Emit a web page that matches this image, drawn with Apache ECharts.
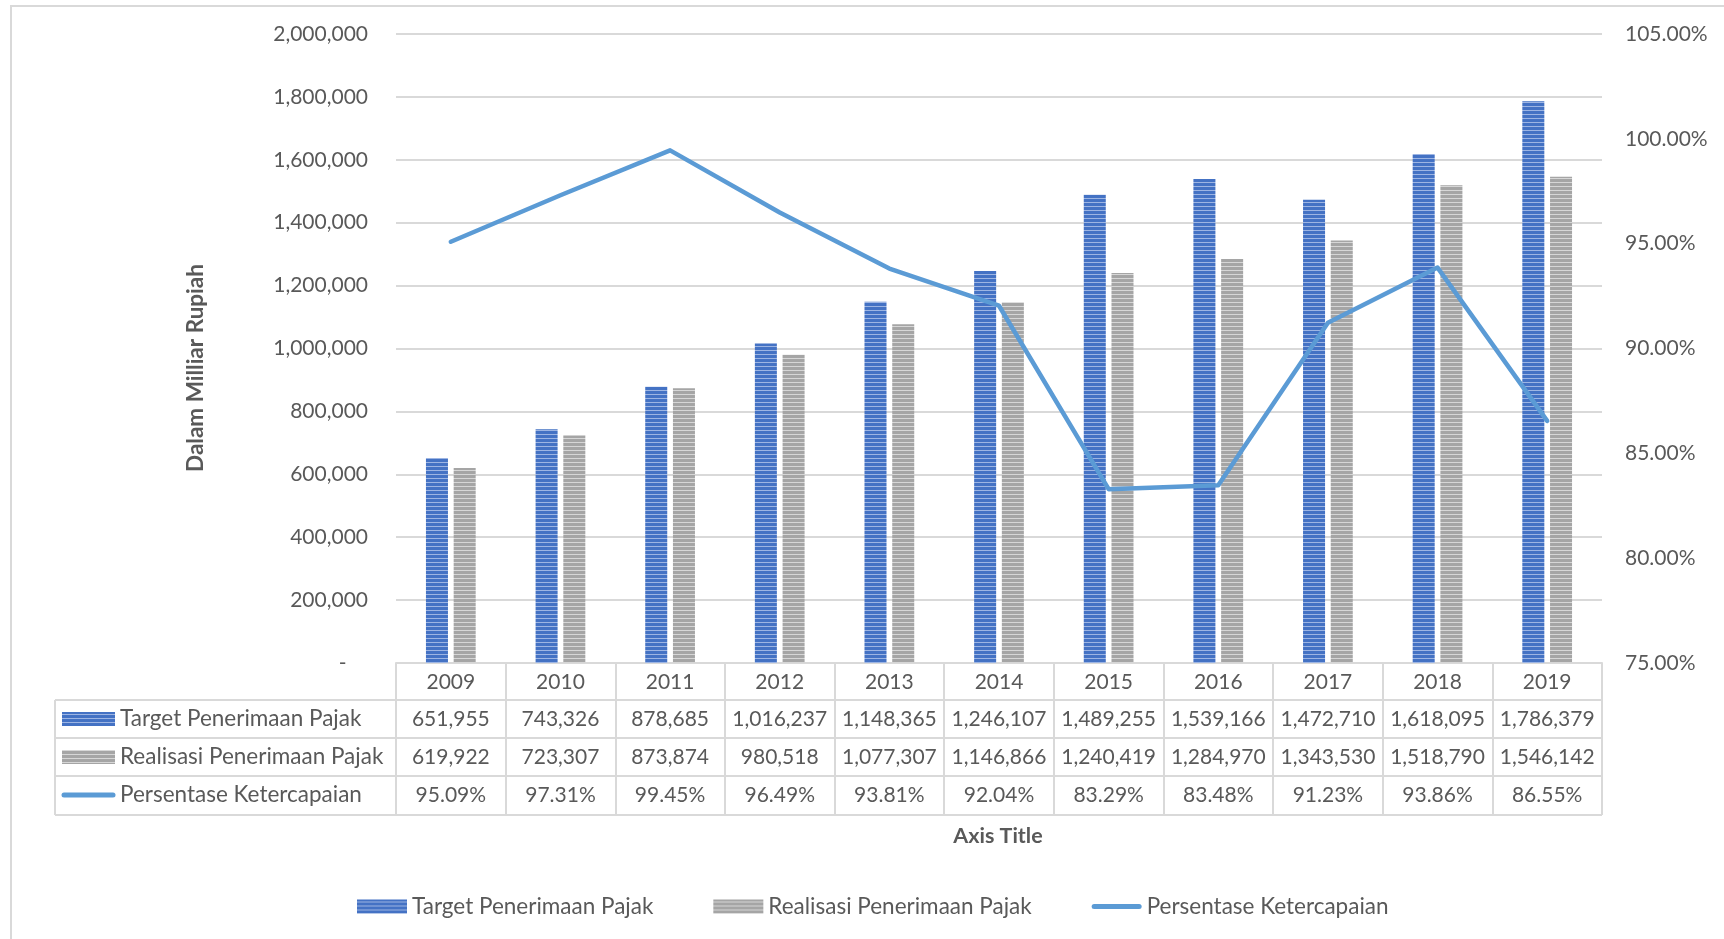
<!DOCTYPE html>
<html>
<head>
<meta charset="utf-8">
<script src="https://cdn.jsdelivr.net/npm/echarts@6/dist/echarts.min.js"></script>
<style>
  html, body { margin: 0; padding: 0; background: #fff; }
  #chart { width: 1724px; height: 939px; }
</style>
</head>
<body>
<div id="chart"></div>
<script>
// ---- data ----
const years = ['2009','2010','2011','2012','2013','2014','2015','2016','2017','2018','2019'];
const targetPajak = [651955, 743326, 878685, 1016237, 1148365, 1246107, 1489255, 1539166, 1472710, 1618095, 1786379];
const realisasiPajak = [619922, 723307, 873874, 980518, 1077307, 1146866, 1240419, 1284970, 1343530, 1518790, 1546142];
const persentase = [95.09, 97.31, 99.45, 96.49, 93.81, 92.04, 83.29, 83.48, 91.23, 93.86, 86.55];
const seriesNames = ['Target Penerimaan Pajak', 'Realisasi Penerimaan Pajak', 'Persentase Ketercapaian'];
const leftTicks = { min: 0, max: 2000000, interval: 200000 };
const rightTicks = { min: 75, max: 105, interval: 5 };

// ---- styles ----
const FONT = 'Lato';
const TXT = '#595959';
const GRID_C = '#D9D9D9';

function stripePattern(dark, light) {
  const c = document.createElement('canvas');
  c.width = 4; c.height = 4;
  const ctx = c.getContext('2d');
  ctx.fillStyle = dark; ctx.fillRect(0, 0, 4, 4);
  ctx.fillStyle = light; ctx.fillRect(0, 2, 4, 1);
  ctx.fillStyle = dark; ctx.fillRect(0, 3, 4, 1);
  return { image: c, repeat: 'repeat' };
}
const bluePat = stripePattern('#4472C4', '#9DB5E3');
const grayPat = stripePattern('#A5A5A5', '#D6D6D6');
const lineColor = '#5B9BD5';

const GRID = { left: 396, top: 34, width: 1206, height: 629 };

const chart = echarts.init(document.getElementById('chart'), null, { renderer: 'canvas' });

const fmtNum = v => v.toLocaleString('en-US');
const fmtPct = v => v.toFixed(2) + '%';

const option = {
  animation: false,
  backgroundColor: '#fff',
  grid: { left: GRID.left, top: GRID.top, width: GRID.width, height: GRID.height },
  legend: {
    left: 352, top: 890,
    itemWidth: 50, itemHeight: 14, itemGap: 60,
    textStyle: { fontFamily: FONT, fontSize: 22.5, color: TXT },
    data: [
      { name: seriesNames[0], icon: 'rect' },
      { name: seriesNames[1], icon: 'rect' },
      { name: seriesNames[2], icon: 'path://M0,0 M2.5,4.5 L47.5,4.5 A2.5,2.5 0 0 1 47.5,9.5 L2.5,9.5 A2.5,2.5 0 0 1 2.5,4.5 Z M50,14',
        itemStyle: { color: lineColor } }
    ]
  },
  xAxis: {
    type: 'category',
    data: years,
    axisLine: { lineStyle: { color: GRID_C, width: 2 } },
    axisTick: { show: true, interval: 0, length: 152, lineStyle: { color: GRID_C, width: 2 } },
    axisLabel: { interval: 0, margin: 19, verticalAlign: 'middle', fontFamily: FONT, fontSize: 21, color: TXT },
    splitLine: { show: false }
  },
  yAxis: [
    {
      type: 'value', min: leftTicks.min, max: leftTicks.max, interval: leftTicks.interval,
      axisLine: { show: false }, axisTick: { show: false },
      axisLabel: { margin: 28, fontFamily: FONT, fontSize: 21, color: TXT,
        formatter: v => v === 0 ? '-    ' : fmtNum(v) },
      splitLine: { lineStyle: { color: GRID_C, width: 2 } }
    },
    {
      type: 'value', min: rightTicks.min, max: rightTicks.max, interval: rightTicks.interval,
      axisLine: { show: false }, axisTick: { show: false },
      axisLabel: { margin: 23, fontFamily: FONT, fontSize: 21, color: TXT, formatter: v => fmtPct(v) },
      splitLine: { show: false }
    }
  ],
  series: [
    {
      name: seriesNames[0], type: 'bar', yAxisIndex: 0, data: targetPajak,
      barWidth: 22, barGap: '26%',
      itemStyle: { color: bluePat }
    },
    {
      name: seriesNames[1], type: 'bar', yAxisIndex: 0, data: realisasiPajak,
      barWidth: 22, barGap: '26%',
      itemStyle: { color: grayPat }
    },
    {
      name: seriesNames[2], type: 'line', yAxisIndex: 1, data: persentase,
      symbol: 'none', z: 5,
      lineStyle: { color: lineColor, width: 4.5, cap: 'round', join: 'round' },
      itemStyle: { color: lineColor }
    }
  ]
};
chart.setOption(option);

// ---- data table & titles as graphic ----
const rowTop = [700, 738, 776];
const rowH = 38;
const tableLeft = 55;
const rightPx = GRID.left + GRID.width;
const rows = [
  { name: seriesNames[0], vals: targetPajak.map(fmtNum), icon: 'bar', fill: bluePat },
  { name: seriesNames[1], vals: realisasiPajak.map(fmtNum), icon: 'bar', fill: grayPat },
  { name: seriesNames[2], vals: persentase.map(fmtPct), icon: 'line' }
];
const g = [];
// frame
g.push({ type: 'rect', shape: { x: 11, y: 6, width: 1800, height: 1000 }, style: { fill: null, stroke: GRID_C, lineWidth: 2 }, silent: true });
// horizontal lines
[700, 738, 776, 815].forEach(y => {
  g.push({ type: 'line', shape: { x1: tableLeft, y1: y, x2: rightPx, y2: y }, style: { stroke: GRID_C, lineWidth: 2 }, silent: true });
});
g.push({ type: 'line', shape: { x1: tableLeft, y1: 700, x2: tableLeft, y2: 815 }, style: { stroke: GRID_C, lineWidth: 2 }, silent: true });

rows.forEach((r, ri) => {
  const cy = rowTop[ri] + rowH / 2;
  if (r.icon === 'bar') {
    g.push({ type: 'rect', shape: { x: 62, y: cy - 7, width: 53, height: 14 }, style: { fill: r.fill }, silent: true });
  } else {
    g.push({ type: 'line', shape: { x1: 64, y1: cy, x2: 113, y2: cy }, style: { stroke: lineColor, lineWidth: 5, lineCap: 'round' }, silent: true });
  }
  g.push({ type: 'text', x: 120, y: cy, style: { text: r.name, fontFamily: FONT, fontSize: 22.5, fill: TXT, textAlign: 'left', textVerticalAlign: 'middle' }, silent: true });
  r.vals.forEach((v, i) => {
    const px = chart.convertToPixel({ xAxisIndex: 0 }, years[i]);
    g.push({ type: 'text', x: px, y: cy, style: { text: v, fontFamily: FONT, fontSize: 21, fill: TXT, textAlign: 'center', textVerticalAlign: 'middle' }, silent: true });
  });
});
// axis titles
g.push({ type: 'text', x: 196, y: 368, rotation: Math.PI / 2,
  style: { text: 'Dalam Milliar Rupiah', fontFamily: FONT, fontSize: 22.5, fontWeight: 'bold', fill: TXT, textAlign: 'center', textVerticalAlign: 'middle' }, silent: true });
g.push({ type: 'text', x: 998, y: 836,
  style: { text: 'Axis Title', fontFamily: FONT, fontSize: 21.5, fontWeight: 'bold', fill: TXT, textAlign: 'center', textVerticalAlign: 'middle' }, silent: true });

chart.setOption({ graphic: { elements: g } });
</script>
</body>
</html>
